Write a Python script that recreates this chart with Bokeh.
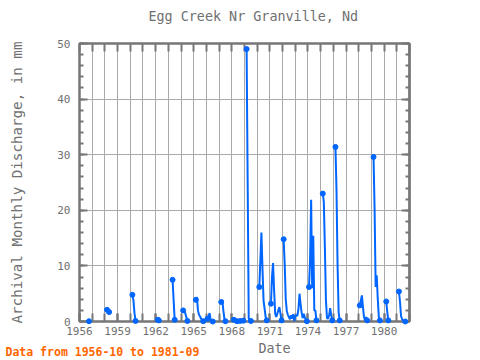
import math
from bokeh.plotting import figure
from bokeh.models import (FixedTicker, LinearAxis, Label, Range1d, ColumnDataSource)
from bokeh.embed import file_html
from bokeh.resources import INLINE

# ---------------- data ----------------
title_text = "Egg Creek Nr Granville, Nd"
y_label = "Archival Monthly Discharge, in mm"
x_label = "Date"
note_text = "Data from 1956-10 to 1981-09"

label_years = [1956, 1959, 1962, 1965, 1968, 1971, 1974, 1977, 1980]
grid_years = list(range(1956, 1983))
y_major = [0, 10, 20, 30, 40, 50]
y_minor = list(range(0, 52, 2))

months = [
    "1956-10",
    "1958-03", "1958-04", "1958-05",
    "1960-03", "1960-04", "1960-05", "1960-06",
    "1962-03", "1962-04",
    "1963-05", "1963-06", "1963-07",
    "1964-03", "1964-04", "1964-05", "1964-06", "1964-07",
    "1965-03", "1965-04", "1965-05", "1965-06", "1965-07", "1965-08", "1965-09", "1965-10",
    "1966-02", "1966-03", "1966-04", "1966-05", "1966-06", "1966-07",
    "1967-03", "1967-04", "1967-05", "1967-06", "1967-07",
    "1968-03", "1968-04", "1968-05", "1968-06",
    "1968-09", "1968-10", "1968-11", "1968-12",
    "1969-03", "1969-04", "1969-05", "1969-06", "1969-07",
    "1970-03", "1970-04", "1970-05", "1970-06", "1970-07", "1970-08", "1970-09", "1970-10",
    "1971-02", "1971-03", "1971-04", "1971-05", "1971-06", "1971-07", "1971-08", "1971-09",
    "1971-10", "1971-11", "1971-12",
    "1972-02", "1972-03", "1972-04", "1972-05", "1972-06", "1972-07", "1972-08", "1972-09",
    "1972-10", "1972-11", "1972-12",
    "1973-01", "1973-02", "1973-03", "1973-04", "1973-05", "1973-06", "1973-07", "1973-08",
    "1973-09", "1973-10", "1973-11", "1973-12",
    "1974-02", "1974-03", "1974-04", "1974-05", "1974-06", "1974-07", "1974-08", "1974-09",
    "1975-03", "1975-04", "1975-05", "1975-06", "1975-07", "1975-08", "1975-09", "1975-10",
    "1975-11", "1975-12",
    "1976-03", "1976-04", "1976-05", "1976-06", "1976-07",
    "1978-02", "1978-03", "1978-04", "1978-05", "1978-06", "1978-07", "1978-08", "1978-09",
    "1979-03", "1979-04", "1979-05", "1979-06", "1979-07", "1979-08", "1979-09",
    "1980-03", "1980-04", "1980-05",
    "1981-03", "1981-04", "1981-05", "1981-06", "1981-07", "1981-08", "1981-09",
]

discharge = [
    0.05,
    2.1, 1.9, 1.7,
    4.8, 3.8, 1.5, 0.1,
    0.3, 0.2,
    7.5, 3.8, 0.3,
    2.0, 1.8, 1.5, 0.8, 0.1,
    3.9, 4.4, 2.0, 1.2, 0.9, 0.5, 0.3, 0.05,
    0.5, 0.9, 1.5, 0.3, 0.1, 0.0,
    3.5, 3.9, 2.0, 0.5, 0.05,
    0.3, 0.25, 0.2, 0.05,
    0.1, 0.2, 0.2, 0.15,
    49.0, 25.0, 0.5, 0.3, 0.1,
    6.2, 11.0, 16.0, 9.5, 3.8, 2.3, 0.8, 0.2,
    3.2, 8.0, 10.5, 5.6, 1.4, 0.8, 1.4, 2.0,
    2.6, 1.4, 0.2,
    14.8, 10.4, 4.0, 1.9, 1.2, 0.8, 0.4, 1.1,
    0.5, 1.3, 0.1,
    1.0, 1.1, 1.0, 2.2, 5.0, 3.2, 1.6, 0.6,
    1.4, 0.8, 0.3, 0.05,
    6.2, 11.0, 21.9, 6.0, 15.4, 2.0, 2.0, 0.2,
    23.0, 21.5, 13.2, 3.8, 0.6, 0.5, 1.1, 2.4,
    1.1, 0.2,
    31.4, 23.5, 10.1, 1.6, 0.2,
    2.9, 3.8, 4.7, 2.6, 0.8, 0.2, 0.8, 0.2,
    29.6, 20.2, 6.2, 8.3, 4.1, 0.8, 0.2,
    3.6, 1.7, 0.2,
    5.4, 3.6, 1.0, 0.4, 0.2, 0.1, 0.0,
]

# ---------------- derived ----------------
idx = [int(m[:4]) * 12 + int(m[5:7]) - 1 for m in months]
xs = [i / 12.0 for i in idx]

line_x, line_y = [], []
mark_x, mark_y = [], []
for k, (i, x, v) in enumerate(zip(idx, xs, discharge)):
    prev_ok = k > 0 and idx[k - 1] == i - 1
    next_ok = k < len(idx) - 1 and idx[k + 1] == i + 1
    if k > 0 and not prev_ok:
        line_x.append(math.nan)
        line_y.append(math.nan)
    line_x.append(x)
    line_y.append(v)
    if not prev_ok or not next_ok:
        mark_x.append(x)
        mark_y.append(v)

FONT = "DejaVu Sans Mono"
GREY = "#707070"
AXIS = "#777777"
BLUE = "#0066ff"

p = figure(width=480, height=360, output_backend="svg", toolbar_location=None,
           x_range=Range1d(1956, 1982), y_range=Range1d(0, 50),
           min_border_left=79, min_border_right=71, min_border_top=43, min_border_bottom=39,
           title=None)

x_ticker = FixedTicker(ticks=label_years, minor_ticks=grid_years)
y_ticker = FixedTicker(ticks=y_major, minor_ticks=y_minor)


def style_axis(ax, minor_len):
    ax.major_tick_in = 8
    ax.major_tick_out = 0
    ax.minor_tick_in = minor_len
    ax.minor_tick_out = 0
    ax.axis_line_color = AXIS
    ax.axis_line_width = 2
    ax.major_tick_line_color = AXIS
    ax.major_tick_line_width = 2
    ax.minor_tick_line_color = AXIS
    ax.minor_tick_line_width = 2


for ax in p.xaxis:
    ax.ticker = x_ticker
    ax.major_label_text_font = FONT
    ax.major_label_text_font_size = "11px"
    ax.major_label_text_color = GREY
    ax.major_label_standoff = 5
    style_axis(ax, 8)

for ax in p.yaxis:
    ax.ticker = y_ticker
    ax.axis_label = y_label
    ax.axis_label_text_font = FONT
    ax.axis_label_text_font_size = "14.2px"
    ax.axis_label_text_font_style = "normal"
    ax.axis_label_text_color = GREY
    ax.axis_label_standoff = 29
    ax.major_label_text_font = FONT
    ax.major_label_text_font_size = "11px"
    ax.major_label_text_color = GREY
    ax.major_label_standoff = 9
    style_axis(ax, 4)

top_ax = LinearAxis(ticker=FixedTicker(ticks=[], minor_ticks=grid_years))
style_axis(top_ax, 8)
right_ax = LinearAxis(ticker=FixedTicker(ticks=[], minor_ticks=y_minor))
style_axis(right_ax, 4)
right_ax2 = LinearAxis(ticker=FixedTicker(ticks=[], minor_ticks=y_major))
style_axis(right_ax2, 8)
p.add_layout(top_ax, "above")
p.add_layout(right_ax, "right")
p.add_layout(right_ax2, "right")

p.xgrid.grid_line_color = "#aaaaaa"
p.xgrid.minor_grid_line_color = "#aaaaaa"
p.ygrid.grid_line_color = "#aaaaaa"
p.outline_line_color = AXIS
p.outline_line_width = 2

src = ColumnDataSource(dict(x=line_x, y=line_y))
p.line("x", "y", source=src, line_color=BLUE, line_width=2, level="overlay")
msrc = ColumnDataSource(dict(x=mark_x, y=mark_y))
p.scatter("x", "y", source=msrc, marker="circle", size=5, color=BLUE, level="overlay")

# texts placed in side panels (screen offsets relative to each panel)
note = Label(x=-74, y=-308.7, x_units="screen", y_units="screen", text=note_text,
             text_font=FONT, text_font_size="11.5px", text_font_style="bold",
             text_color="#ff6600", text_baseline="middle")
title_lbl = Label(x=69, y=13, x_units="screen", y_units="screen", text=title_text,
                  text_font=FONT, text_font_size="13.4px", text_color=GREY,
                  text_baseline="middle")
date_lbl = Label(x=195, y=4, x_units="screen", y_units="screen", text=x_label,
                 text_font=FONT, text_font_size="13.4px", text_color=GREY,
                 text_align="center", text_baseline="middle")
p.add_layout(note, "above")
p.add_layout(title_lbl, "above")
p.add_layout(date_lbl, "below")

open("out.html", "w").write(file_html(p, INLINE))
